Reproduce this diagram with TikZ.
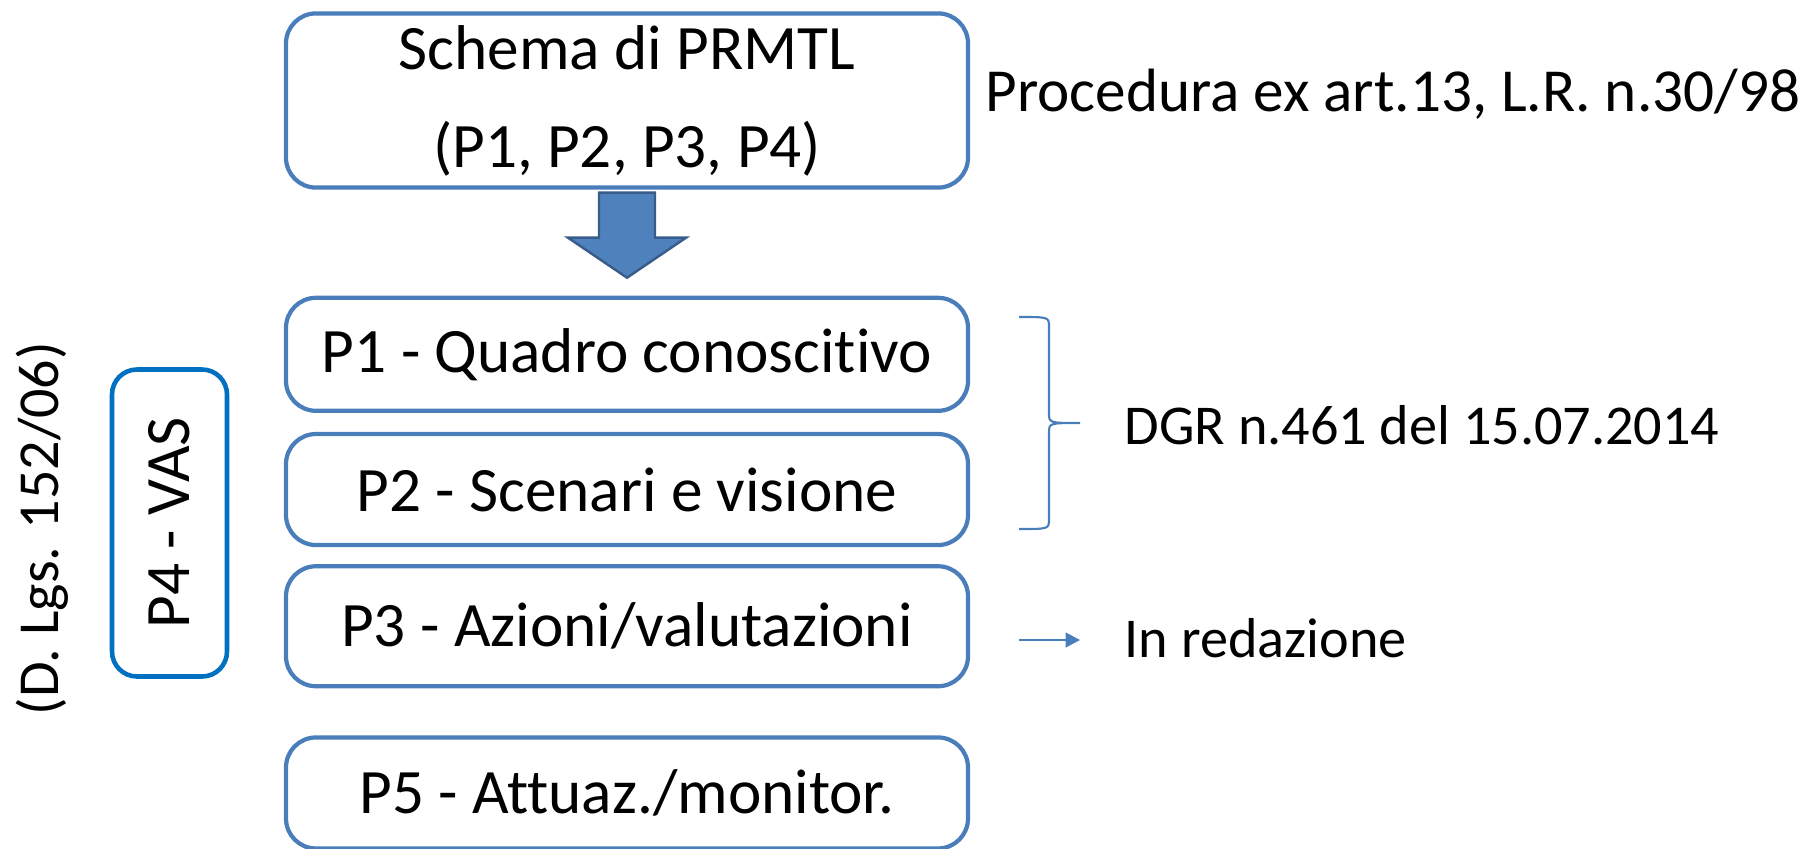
\documentclass[tikz,border=0pt]{standalone}
\usepackage{fontspec}
\setmainfont{Carlito}[Ligatures=NoCommon]
\usetikzlibrary{shapes,arrows.meta,calc,positioning}

\definecolor{boxblue}{RGB}{74,126,187}
\definecolor{arrowfill}{RGB}{79,129,189}
\definecolor{arrowline}{RGB}{56,93,138}
\definecolor{vasblue}{RGB}{0,112,192}

\begin{document}
\begin{tikzpicture}[
        box/.style={draw=boxblue, line width=1.2pt, rounded corners=0.3cm, minimum width=6.82cm, minimum height=1.11cm, align=center, font=\fontsize{18}{27.9}\selectfont},
        vasbox/.style={draw=vasblue, line width=1.3pt, rounded corners=0.25cm, minimum width=3.07cm, minimum height=1.15cm, font=\fontsize{18}{22}\selectfont},
        note/.style={inner sep=0pt, anchor=base west, font=\fontsize{16}{19}\selectfont},
        bigarrow/.style={fill=arrowfill, draw=arrowline, line width=0.7pt, line join=miter},
        markline/.style={draw=boxblue, line width=0.6pt}
    ]
        \useasboundingbox (0,0) rectangle (18.07,-8.49);

        % phases
        \node[box, minimum height=1.73cm] (schema) at (6.27,-1.005) {Schema di PRMTL\\(P1, P2, P3, P4)};
        \node[box, minimum height=1.13cm, below = 1.06cm of schema] (p1) {P1 - Quadro conoscitivo};
        \node[box, below = 0.19cm of p1] (p2) {P2 - Scenari e visione};
        \node[box, minimum height=1.2cm, below = 0.17cm of p2] (p3) {P3 - Azioni/valutazioni};
        \node[box, below = 0.47cm of p3] (p5) {P5 - Attuaz./monitor.};

        \node[vasbox, rotate=90] (vas) at (1.695,-5.23) {P4 - VAS};
        \node[rotate=90, font=\fontsize{16.5}{20}\selectfont] (dlgs) at (0.42,-5.285) {(D. Lgs. 152/06)};

        % notes on the right
        \node[note, font=\fontsize{17.4}{20}\selectfont] (proc) at (9.85,-1.12) {Procedura ex art.13, L.R. n.30/98};
        \node[note] (dgr) at (11.24,-4.44) {DGR n.461 del 15.07.2014};
        \node[note] (redaz) at (11.24,-6.57) {In redazione};

        % block arrow
        \coordinate (as) at ([yshift=-0.3mm]schema.south);
        \coordinate (at) at ([yshift=1.8mm]p1.north);
        \filldraw[bigarrow] ($(as)+(-0.28,0)$) -- ($(as)+(0.28,0)$) -- ($(as)+(0.28,-0.45)$) -- ($(as)+(0.59,-0.45)$)
            -- (at) -- ($(as)+(-0.59,-0.45)$) -- ($(as)+(-0.28,-0.45)$) -- cycle;

        % brace
        \coordinate (brtip) at (10.80,-4.23);
        \draw[markline] (10.19,-3.17) .. controls (10.49,-3.17) .. (10.49,-3.27) -- (10.49,-4.13)
            .. controls (10.49,-4.23) .. (brtip) .. controls (10.49,-4.23) .. (10.49,-4.33)
            -- (10.49,-5.19) .. controls (10.49,-5.29) .. (10.19,-5.29);

        \coordinate (redarr) at (10.19,-6.40);
        \draw[markline, line width=0.45pt, -{Triangle[length=1.45mm, width=1.5mm]}] (redarr) -- ([xshift=-4.4mm]redaz.west |- redarr);

        \end{tikzpicture}
\end{document}
